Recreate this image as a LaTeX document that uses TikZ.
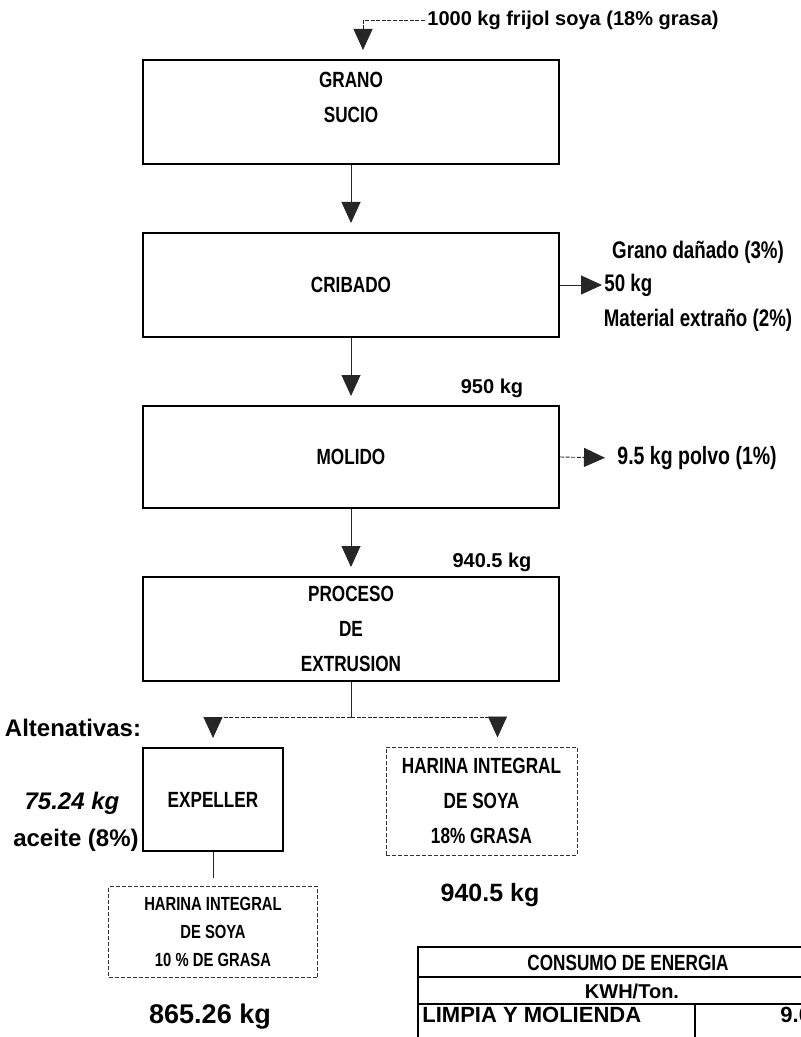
\documentclass[tikz,border=0pt]{standalone}
\usepackage{fontspec}
\setmainfont{Liberation Sans}
\newfontfamily\condfont[FakeStretch=0.78]{Liberation Sans}
\usetikzlibrary{arrows.meta, positioning, calc}

\begin{document}
\begin{tikzpicture}[
  x=0.5pt, y=0.5pt,
  font=\bfseries,
  node distance=33.5pt,
  prbox/.style={draw=black, fill=white, line width=1pt, align=center,
                inner sep=2pt, minimum width=208pt, minimum height=52pt,
                font=\condfont\bfseries\fontsize{11}{17.5}\selectfont},
  prout/.style={draw=black!80, line width=0.5pt, dash pattern=on 2pt off 1pt,
                align=center, inner sep=2pt,
                font=\condfont\bfseries\fontsize{11}{17.5}\selectfont},
  prline/.style={draw=black!85, line width=0.45pt},
  prdash/.style={prline, dash pattern=on 2pt off 0.8pt},
  prar/.style={prline, -{Triangle[length=10.5pt,width=9.5pt]}, shorten >=4.5pt},
  prdar/.style={prdash, -{Triangle[length=10.5pt,width=9.5pt]}, shorten >=4.5pt},
  tabline/.style={draw=black, line width=1pt},
  lab/.style={inner sep=1pt, font=\bfseries\fontsize{10}{12}\selectfont},
  side/.style={inner sep=1pt, font=\condfont\bfseries\fontsize{12}{14}\selectfont},
  kg/.style={inner sep=1pt, font=\bfseries\fontsize{12.5}{15}\selectfont}
]

\useasboundingbox (0,0) rectangle (801,-1037);
\clip (0,0) rectangle (801,-1037);

%--------------------------------------------------------------
% Columna principal del proceso
%--------------------------------------------------------------
\node[prbox, text depth=14.5pt] (grano) at (351,-112) {GRANO\\ SUCIO};

\node[prbox, below=of grano] (cribado) {CRIBADO};

\node[prbox, below=of cribado, minimum height=51pt] (molido) {MOLIDO};

\node[prbox, below=of molido] (extrusion) {PROCESO\\ DE\\ EXTRUSION};

%--------------------------------------------------------------
% Alternativas de salida
%--------------------------------------------------------------
\node[prbox, minimum width=70pt, minimum height=51.5pt] (expeller) at (213,-799.5) {EXPELLER};

\node[prout, minimum width=95.5pt, minimum height=54pt] (harinaA) at (481.5,-801)
  {HARINA INTEGRAL\\ DE SOYA\\ 18\% GRASA};

\node[prout, below=17pt of expeller, minimum width=104.5pt, minimum height=45.5pt,
      font=\condfont\bfseries\fontsize{9.5}{14}\selectfont] (harinaB)
  {HARINA INTEGRAL\\ DE SOYA\\ 10 \% DE GRASA};

%--------------------------------------------------------------
% Cantidades y corrientes laterales
%--------------------------------------------------------------
\node[lab, anchor=west] (entrada) at (425,-20) {1000 kg frijol soya (18\% grasa)};

\node[side, anchor=west] (residuo) at (602,-285) {50 kg};
\node[side] (danado) at (698,-252) {Grano dañado (3\%)};
\node[side] (extrano) at (698,-320) {Material extraño (2\%)};

\node[lab] (kgcrib) at (492,-388) {950 kg};
\node[side, anchor=west, font=\condfont\bfseries\fontsize{12.5}{15}\selectfont] (polvo)
  at (615,-458) {9.5 kg polvo (1\%)};
\node[lab] (kgmol) at (492,-562) {940.5 kg};

\node[kg, font=\bfseries\fontsize{12}{14}\selectfont] (alt) at (73,-728) {Altenativas:};
\node[kg, font=\bfseries\itshape\fontsize{12}{14}\selectfont] (aceitekg) at (72,-803) {75.24 kg};
\node[kg, font=\bfseries\fontsize{12}{14}\selectfont] (aceite) at (76,-840) {aceite (8\%)};

\node[kg] (kgA) at (490,-895) {940.5 kg};
\node[kg, font=\bfseries\fontsize{13.5}{16}\selectfont] (kgB) at (210,-1017) {865.26 kg};

%--------------------------------------------------------------
% Tabla de consumo de energia
%--------------------------------------------------------------
\draw[tabline] (418,-1060) |- (850,-947);
\draw[tabline] (418,-977) -- (850,-977);
\draw[tabline] (418,-1004) -- (850,-1004);
\draw[tabline] (695,-1004) -- (695,-1060);

\node[side, font=\condfont\bfseries\fontsize{11}{13}\selectfont] (consumo) at (628,-963) {CONSUMO DE ENERGIA};
\node[lab] (kwh) at (632,-991) {KWH/Ton.};
\node[lab, anchor=west, font=\bfseries\fontsize{11}{13}\selectfont] (limpia) at (420,-1015) {LIMPIA Y MOLIENDA};
\node[lab, anchor=west, font=\bfseries\fontsize{11}{13}\selectfont] (valor) at (778,-1015) {9.0};

%--------------------------------------------------------------
% Conexiones
%--------------------------------------------------------------
\draw[prdar] (entrada.west) -| ([xshift=6pt]grano.north);
\draw[prar] (grano) -- (cribado);
\draw[prar] (cribado) -- (molido);
\draw[prar] (molido) -- (extrusion);

\draw[prar, shorten >=0pt] (cribado.east) -- (residuo.west);
\draw[prdar, shorten >=5pt] (molido.east) -- (polvo.west);

% bifurcacion hacia las alternativas
\coordinate (split) at ([yshift=-17.5pt]extrusion.south);
\draw[prline] (extrusion.south) -- (split);
\draw[prdar] (split) -| (expeller.north);
\draw[prdar] (split) -| ([xshift=8pt]harinaA.north);
\draw[prline, shorten >=4pt] (expeller.south) -- (expeller.south |- harinaB.north);

\end{tikzpicture}
\end{document}
